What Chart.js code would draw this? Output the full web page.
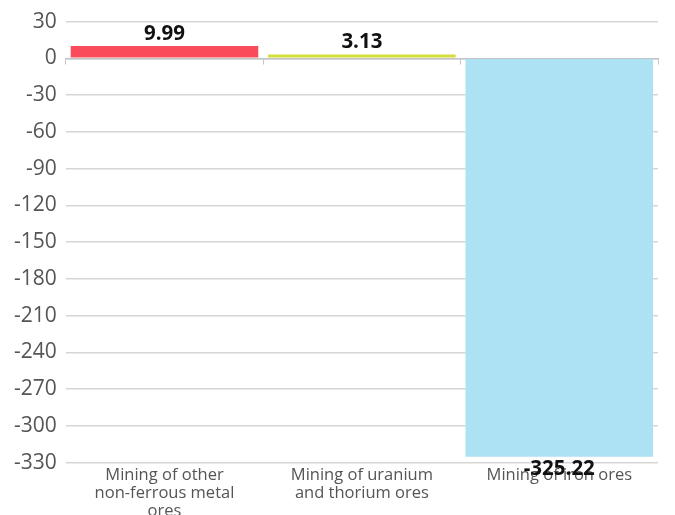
<!DOCTYPE html>
<html>
<head>
<meta charset="utf-8">
<script src="https://cdn.jsdelivr.net/npm/chart.js@4.4.1/dist/chart.umd.min.js"></script>
<style>
  html, body { margin: 0; padding: 0; background: #fff; overflow: hidden; }
  #wrap { width: 675px; height: 524px; }
</style>
</head>
<body>
<div id="wrap"><canvas id="chart" width="675" height="524"></canvas></div>
<script>
const categories = [
  ['Mining of other', 'non-ferrous metal', 'ores'],
  ['Mining of uranium', 'and thorium ores'],
  ['Mining of iron ores']
];
const values = [9.99, 3.13, -325.22];
const barColors = ['#F94C5A', '#D4DD3A', '#ADE1F4'];
const yMin = -330, yMax = 30, yStep = 30;

const FONT = "'Open Sans', 'Noto Sans', sans-serif";

// value labels on top of / below each bar
const valueLabels = {
  id: 'valueLabels',
  afterDatasetsDraw(chart) {
    const ctx = chart.ctx;
    const meta = chart.getDatasetMeta(0);
    ctx.save();
    ctx.font = 'bold 20.5px ' + FONT;
    ctx.fillStyle = '#111';
    ctx.textAlign = 'center';
    meta.data.forEach((bar, i) => {
      const v = values[i];
      if (v >= 0) {
        ctx.textBaseline = 'bottom';
        ctx.fillText(v.toFixed(2), bar.x, bar.y - 2);
      } else {
        ctx.textBaseline = 'top';
        ctx.fillText(v.toFixed(2), bar.x, bar.y + 2);
      }
    });
    ctx.restore();
  }
};

new Chart(document.getElementById('chart'), {
  type: 'bar',
  data: {
    labels: categories,
    datasets: [{
      data: values,
      backgroundColor: barColors,
      borderWidth: 0,
      barPercentage: 0.95,
      categoryPercentage: 1.0
    }]
  },
  options: {
    responsive: false,
    animation: false,
    layout: { padding: { top: 12, right: 17, left: 5, bottom: 0 } },
    plugins: { legend: { display: false }, tooltip: { enabled: false } },
    scales: {
      x: {
        grid: { display: false, drawTicks: false },
        border: { display: false },
        ticks: {
          color: '#555',
          font: { family: FONT, size: 16.5, lineHeight: 1.12 },
          maxRotation: 0,
          padding: 3
        }
      },
      x2: {
        type: 'category',
        labels: categories,
        position: { y: 0 },
        offset: true,
        grid: { drawOnChartArea: false, drawTicks: true, tickLength: 5, color: '#c4c4c4', offset: true },
        border: { display: true, color: '#c4c4c4', width: 1.5 },
        ticks: { display: false }
      },
      y: {
        min: yMin,
        max: yMax,
        grid: {
          color: '#d6d6d6',
          lineWidth: 1.5,
          drawTicks: false
        },
        border: { display: false },
        ticks: {
          stepSize: yStep,
          color: '#555',
          padding: 9,
          font: { family: FONT, size: 21 }
        }
      }
    }
  },
  plugins: [valueLabels]
});
</script>
</body>
</html>
